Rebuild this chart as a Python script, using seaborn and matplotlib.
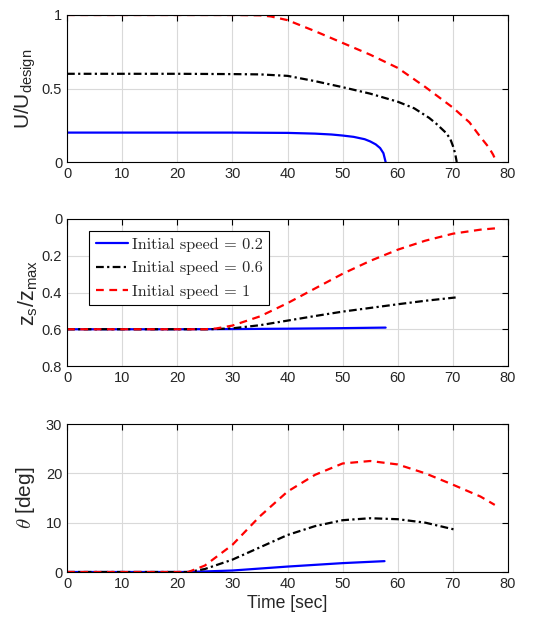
import numpy as np
import pandas as pd
import matplotlib
matplotlib.use("Agg")
import matplotlib.pyplot as plt
import seaborn as sns
from matplotlib.font_manager import FontProperties

# ---- data ----
labels = ["Initial speed = 0.2", "Initial speed = 0.6", "Initial speed = 1"]

# Panel 1: U/U_design
t_u02 = [0, 10, 20, 30, 40, 45, 48, 50, 52, 54, 55, 56, 56.8, 57.4, 57.8]
u_02 = [0.2, 0.2, 0.2, 0.2, 0.198, 0.193, 0.187, 0.18, 0.171, 0.155, 0.14, 0.12, 0.095, 0.06, 0.0]
t_u06 = [0, 10, 20, 30, 35, 38, 40, 45, 50, 55, 60, 63, 65.7, 67, 68.7, 69.5, 70, 70.4, 70.7]
u_06 = [0.6, 0.6, 0.6, 0.598, 0.596, 0.59, 0.586, 0.55, 0.509, 0.465, 0.41, 0.365, 0.30, 0.26, 0.20, 0.16, 0.11, 0.06, 0.0]
t_u1 = [0, 10, 20, 30, 35, 37, 40, 45, 50, 55, 60, 65, 70, 73, 75, 76.5, 77.3, 77.9]
u_1 = [1.0, 1.0, 1.0, 1.0, 0.998, 0.99, 0.965, 0.89, 0.81, 0.73, 0.64, 0.51, 0.37, 0.27, 0.17, 0.10, 0.05, 0.0]

# Panel 2: z_s/z_max
t_z02 = [0, 10, 20, 30, 40, 50, 57.8]
z_02 = [0.6, 0.6, 0.6, 0.599, 0.597, 0.594, 0.591]
t_z06 = [0, 10, 20, 26, 30, 35, 40, 45, 50, 55, 60, 65, 70.5]
z_06 = [0.6, 0.6, 0.6, 0.6, 0.595, 0.578, 0.553, 0.528, 0.504, 0.484, 0.464, 0.445, 0.427]
t_z1 = [0, 10, 20, 25, 27, 30, 35, 40, 45, 50, 55, 60, 65, 70, 75, 78]
z_1 = [0.6, 0.6, 0.6, 0.6, 0.596, 0.58, 0.53, 0.458, 0.378, 0.298, 0.228, 0.167, 0.118, 0.08, 0.058, 0.05]

# Panel 3: theta [deg]
t_th02 = [0, 10, 20, 22, 30, 40, 50, 57.6]
th_02 = [0, 0, 0, 0, 0.3, 1.1, 1.8, 2.2]
t_th06 = [0, 10, 20, 22, 25, 30, 35, 40, 45, 50, 55, 60, 65, 70.7]
th_06 = [0, 0, 0, 0, 0.6, 2.5, 5.0, 7.5, 9.3, 10.5, 10.9, 10.7, 10.0, 8.5]
t_th1 = [0, 10, 20, 22, 25, 30, 35, 40, 45, 50, 55, 60, 65, 70, 75, 77.6]
th_1 = [0, 0, 0, 0, 1.3, 5.5, 11.3, 16.3, 19.7, 22.0, 22.5, 21.8, 20.0, 17.7, 15.3, 13.6]

x_ticks = [0, 10, 20, 30, 40, 50, 60, 70, 80]
u_ticks = [0, 0.5, 1]
u_ticklabels = ["0", "0.5", "1"]
z_ticks = [0, 0.2, 0.4, 0.6, 0.8]
z_ticklabels = ["0", "0.2", "0.4", "0.6", "0.8"]
th_ticks = [0, 10, 20, 30]

# ---- styling ----
sns.set_style("white")
plt.rcParams["font.family"] = ["Liberation Sans", "DejaVu Sans"]
plt.rcParams["mathtext.fontset"] = "custom"
plt.rcParams["mathtext.rm"] = "Liberation Sans"
plt.rcParams["mathtext.it"] = "Liberation Sans:italic"
plt.rcParams["mathtext.bf"] = "Liberation Sans:bold"

colors = ["#0000ff", "#000000", "#ff0000"]
styles = ["-", (0, (3.5, 1.5, 1, 1.5)), (0, (3.5, 2.5))]
lw = 1.6
tick_color = "#262626"

fig = plt.figure(figsize=(5.56, 6.28), dpi=100)
left, width = 67 / 556, 441 / 556
ax1 = fig.add_axes([left, 1 - 162 / 628, width, 147 / 628])
ax2 = fig.add_axes([left, 1 - 366 / 628, width, 147 / 628])
ax3 = fig.add_axes([left, 1 - 572 / 628, width, 148 / 628])

sets = [
    (ax1, [(t_u02, u_02), (t_u06, u_06), (t_u1, u_1)]),
    (ax2, [(t_z02, z_02), (t_z06, z_06), (t_z1, z_1)]),
    (ax3, [(t_th02, th_02), (t_th06, th_06), (t_th1, th_1)]),
]
for ax, series in sets:
    for (t, v), c, ls, lab in zip(series, colors, styles, labels):
        sns.lineplot(x=t, y=v, ax=ax, color=c, linestyle=ls, linewidth=lw,
                     label=lab, legend=False, sort=False)

for ax in (ax1, ax2, ax3):
    ax.set_xlim(0, 80)
    ax.set_xticks(x_ticks)
    ax.set_xticklabels([str(x) for x in x_ticks])
    ax.grid(True, color="#d9d9d9", linewidth=0.8)
    ax.set_axisbelow(True)
    ax.tick_params(direction="in", top=True, right=True, length=4,
                   labelsize=10.5, width=0.8, colors="black",
                   labelcolor=tick_color)
    for s in ax.spines.values():
        s.set_color("black")
        s.set_linewidth(0.8)
    ax.set_xlabel("")

ax1.set_ylim(0, 1)
ax1.set_yticks(u_ticks)
ax1.set_yticklabels(u_ticklabels)
ax1.set_ylabel(r"U/U$_{\mathrm{design}}$", fontsize=15, color=tick_color, labelpad=3)

ax2.set_ylim(0.8, 0)
ax2.set_yticks(z_ticks)
ax2.set_yticklabels(z_ticklabels)
ax2.set_ylabel(r"z$_{\mathrm{s}}$/z$_{\mathrm{max}}$", fontsize=15.5, color=tick_color, labelpad=1)

ax3.set_ylim(0, 30)
ax3.set_yticks(th_ticks)
ax3.set_yticklabels([str(v) for v in th_ticks])
ax3.set_ylabel(r"$\theta$ [deg]", fontsize=15, color=tick_color, labelpad=6,
               math_fontfamily="cm")
ax3.set_xlabel("Time [sec]", fontsize=12.7, color=tick_color, labelpad=3)

handles = ax2.get_lines()[:3]
leg = ax2.legend(handles, labels, loc="upper left", bbox_to_anchor=(0.05, 0.918),
                 prop=FontProperties(family="cmr10", size=11.7),
                 frameon=True, fancybox=False, edgecolor="black", framealpha=1,
                 handlelength=2.0, handletextpad=0.25, borderpad=0.4,
                 labelspacing=0.55, borderaxespad=0)
leg.get_frame().set_linewidth(0.8)

fig.savefig("out.png", dpi=100)
